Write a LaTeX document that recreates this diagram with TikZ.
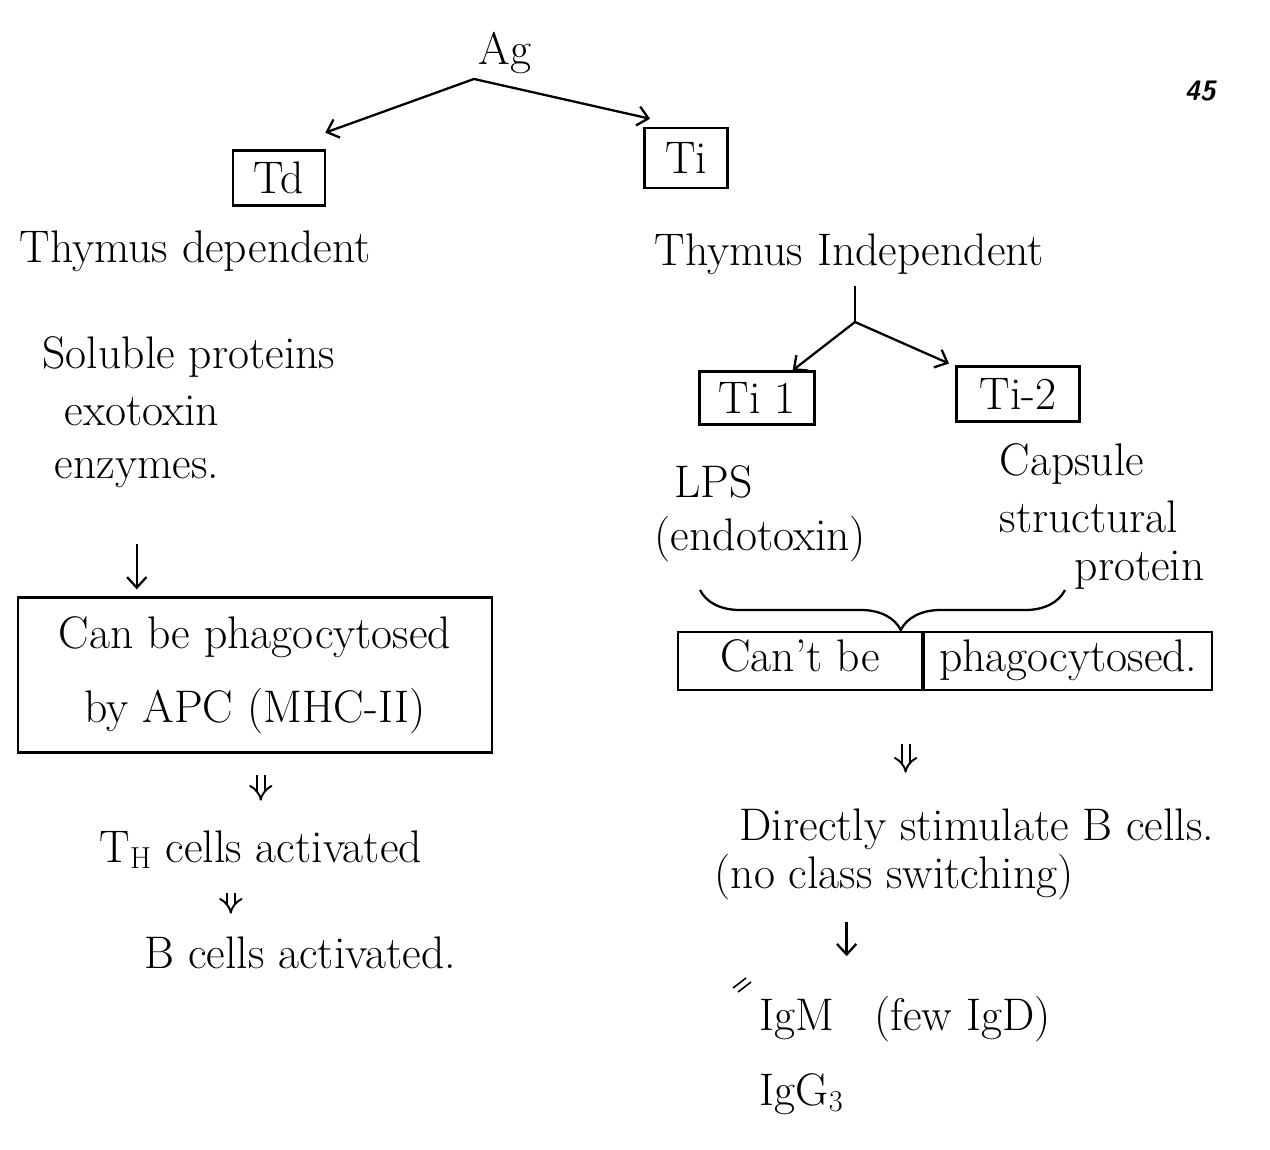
\documentclass[tikz,border=0pt]{standalone}
\usepackage{amsmath,amssymb}
\usetikzlibrary{arrows.meta, positioning, calc, decorations.pathreplacing}

\begin{document}
\begin{tikzpicture}[x=0.02cm, y=-0.02cm, >={Straight Barb[length=6pt,width=11pt]}, line width=1.3pt,
  every node/.style={font=\fontsize{26}{30}\selectfont, inner sep=2pt},
  box/.style={draw, line width=1.3pt, inner sep=0pt},
  dbl/.style={double, double distance=3.5pt, line width=1.1pt, -{Implies}}]
\useasboundingbox (0,0) rectangle (1270,1149);

% top split
\node[anchor=base] (ag) at (505,65) {Ag};
\node[anchor=base, font=\fontsize{16}{18}\selectfont\sffamily\bfseries\itshape] (pg) at (1200,100) {45};
\node[box, minimum width=1.84cm, minimum height=1.1cm] (td) at (279,178) {Td};
\node[box, minimum width=1.66cm, minimum height=1.2cm] (ti) at (686,158) {Ti};
\draw[->, shorten >=28pt] (ag.south west) -- (td.north);
\draw[->, shorten >=21pt] (ag.south west) -- (ti.north);

% thymus dependent side
\node[anchor=base west] (thd) at (15,262) {Thymus dependent};
\node[anchor=base west] (sol) at (38,368) {Soluble proteins};
\node[anchor=base west] (exo) at (60,425) {exotoxin};
\node[anchor=base west] (enz) at (50,478) {enzymes.};
\node[box, minimum width=9.48cm, minimum height=3.1cm, align=center,
      font=\fontsize{26}{42}\selectfont] (can) at (255,675) {Can be phagocytosed\\ by APC (MHC-II)};
\draw[->, shorten <=1.05cm, shorten >=4pt] (enz.south) -- (enz.south |- can.north);
\node[anchor=base west] (th) at (95,862) {T$_{\mathrm{H}}$ cells activated};
\node[anchor=base west] (bc) at (140,968) {B cells activated.};
\draw[dbl, shorten <=0.42cm, shorten >=0.5cm] (th.north |- can.south) -- (th.north);
\draw[dbl, shorten <=0.4cm, shorten >=0.36cm] ([xshift=-0.6cm]th.south) -- ([xshift=-0.6cm]th.south |- bc.north);

% thymus independent side
\node[anchor=base west] (thi) at (650,265) {Thymus Independent};
\coordinate (tifork) at (855,322);
\node[box, minimum width=2.3cm, minimum height=1.06cm] (ti1) at (757,398) {Ti 1};
\node[box, minimum width=2.46cm, minimum height=1.1cm] (ti2) at (1018,394) {Ti-2};
\draw[shorten <=4pt] (tifork |- thi.south) -- (tifork);
\draw[->] (tifork) -- (ti1);
\draw[->, shorten >=4pt] (tifork) -- (ti2);

\node[anchor=base west] (lps) at (670,497) {LPS};
\node[anchor=base west] (endo) at (650,550) {(endotoxin)};
\node[anchor=base west] (cap) at (995,475) {Capsule};
\node[anchor=base west] (str) at (995,532) {structural};
\node[anchor=base west] (pro) at (1070,580) {protein};
\coordinate (brr) at (1065,590);
\coordinate (brl) at (700,590);
\draw[decorate, decoration={brace, amplitude=0.8cm, aspect=0.45}] (brr) -- (brl);

\node[box, minimum width=4.88cm, minimum height=1.16cm, text height=18pt, text depth=6pt] (cant) at (800,661) {Can't be};
\node[box, minimum width=5.76cm, minimum height=1.16cm, text height=18pt, text depth=6pt, right=0pt of cant] (phag) {phagocytosed.};

\node[anchor=base west] (dir) at (735,840) {Directly stimulate B cells.};
\node[anchor=base west] (ncs) at (710,888) {(no class switching)};
\draw[dbl, shorten <=1.05cm, shorten >=0.62cm] ([xshift=-0.35cm]cant.south east) -- ([xshift=-0.35cm]cant.south east |- dir.north);

\node[anchor=base west] (igm) at (755,1030) {IgM};
\node[anchor=base west] (few) at (870,1030) {(few IgD)};
\node[anchor=base west] (igg) at (755,1105) {IgG$_3$};
\draw[->, shorten <=0.36cm, shorten >=0.76cm] ([xshift=-0.95cm]ncs.south) -- ([xshift=-0.95cm]ncs.south |- igm.north);
\draw[line width=0.9pt] (733,988) -- (746,978) (738,992) -- (751,982);
\end{tikzpicture}
\end{document}
